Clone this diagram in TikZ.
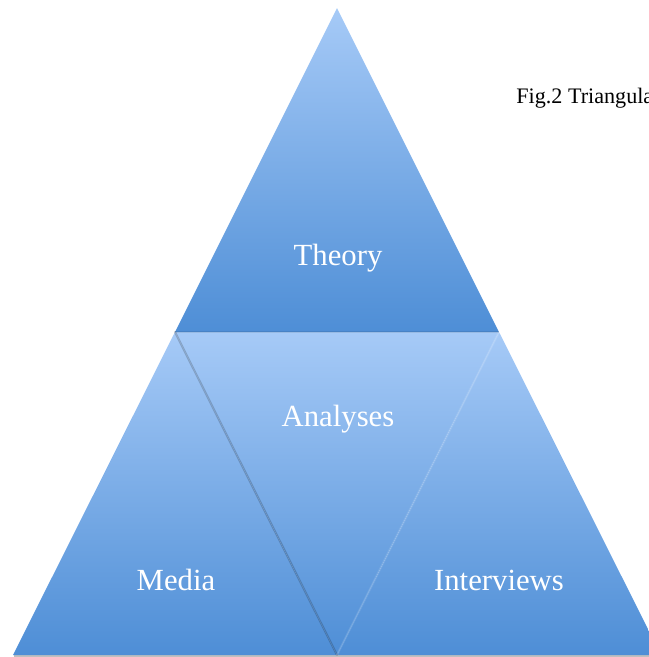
\documentclass[tikz,border=0pt]{standalone}
\usepackage{fontspec}
\setmainfont{Liberation Serif}

\definecolor{triLight}{HTML}{A6CAF7}
\definecolor{triDark}{HTML}{4E8ED6}

\tikzset{
    part/.style={top color=triLight, bottom color=triDark},
    partname/.style={text=white, font=\fontsize{17.5}{21}\selectfont},
    crease/.style={line width=1.2pt, line cap=round},
}

\begin{document}
\begin{tikzpicture}[x=0.02cm,y=-0.02cm]
    \useasboundingbox (0,0) rectangle (649,657);
    \clip (0,0) rectangle (649,657);

    % corners of the big triangle and its mid points
    \coordinate (apex) at (337,8);
    \coordinate (bl) at (13,655);
    \coordinate (br) at (661,655);
    \coordinate (bm) at (337,655);
    \coordinate (ml) at (175,332);
    \coordinate (mr) at (499,332);

    % soft shadow under the base
    \fill [black!25] (14,655) rectangle (649,657);

    % the four parts
    \shade [part] (apex) -- (ml) -- (mr) -- cycle;
    \shade [part] (ml) -- (bl) -- (bm) -- cycle;
    \shade [part] (mr) -- (bm) -- (br) -- cycle;
    \shade [part] (ml) -- (mr) -- (bm) -- cycle;

    % creases between the parts
    \draw [crease, black, opacity=0.18] (ml) -- (bm);
    \draw [crease, white, opacity=0.12] (mr) -- (bm);
    \draw [black, opacity=0.08, line width=1pt] (ml) -- (mr);

    \node [partname] (theory) at (338,258) {Theory};
    \node [partname] (analyses) at (338,419) {Analyses};
    \node [partname] (media) at (176,580) {Media};
    \node [partname] (interviews) at (499,580) {Interviews};

    \node [anchor=base west, inner sep=0pt, font=\fontsize{12.6}{15}\selectfont]
        (caption) at (516,103) {Fig.2 Triangulation};
\end{tikzpicture}
\end{document}
